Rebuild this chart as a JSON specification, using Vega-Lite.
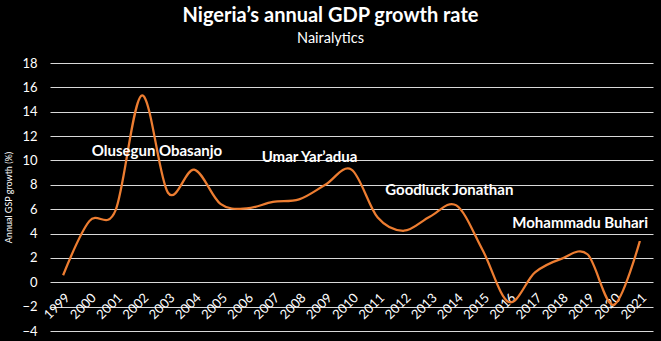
{
  "$schema": "https://vega.github.io/schema/vega-lite/v6.json",
  "autosize": "none",
  "width": 603,
  "height": 268,
  "padding": {"left": 50, "top": 63, "right": 8, "bottom": 10},
  "background": "#000000",
  "config": {
    "view": {"stroke": null},
    "font": "Lato"
  },
  "title": {
    "text": "Nigeria’s annual GDP growth rate",
    "subtitle": "Nairalytics",
    "anchor": "middle",
    "dx": -21,
    "offset": 12,
    "color": "#ffffff",
    "subtitleColor": "#ffffff",
    "font": "Lato",
    "subtitleFont": "Lato",
    "fontSize": 20,
    "fontWeight": "bold",
    "subtitleFontSize": 14.5,
    "subtitlePadding": 6
  },
  "datasets": {
    "gdp": [
      {"year": 1999, "growth": 0.58},
      {"year": 2000, "growth": 5.02},
      {"year": 2001, "growth": 5.9},
      {"year": 2002, "growth": 15.33},
      {"year": 2003, "growth": 7.35},
      {"year": 2004, "growth": 9.25},
      {"year": 2005, "growth": 6.44},
      {"year": 2006, "growth": 6.06},
      {"year": 2007, "growth": 6.6},
      {"year": 2008, "growth": 6.8},
      {"year": 2009, "growth": 8.0},
      {"year": 2010, "growth": 9.25},
      {"year": 2011, "growth": 5.31},
      {"year": 2012, "growth": 4.23},
      {"year": 2013, "growth": 5.4},
      {"year": 2014, "growth": 6.31},
      {"year": 2015, "growth": 2.65},
      {"year": 2016, "growth": -1.62},
      {"year": 2017, "growth": 0.81},
      {"year": 2018, "growth": 1.92},
      {"year": 2019, "growth": 2.3},
      {"year": 2020, "growth": -1.85},
      {"year": 2021, "growth": 3.4}
    ],
    "labels": [
      {"year": 2002.58, "growth": 10.8, "label": "Olusegun Obasanjo"},
      {"year": 2008.4, "growth": 10.3, "label": "Umar Yar’adua"},
      {"year": 2013.73, "growth": 7.6, "label": "Goodluck Jonathan"},
      {"year": 2018.72, "growth": 4.9, "label": "Mohammadu Buhari"}
    ]
  },
  "encoding": {
    "x": {
      "field": "year",
      "type": "quantitative",
      "scale": {"domain": [1998.5, 2021.5], "nice": false, "zero": false},
      "axis": {
        "title": null,
        "values": [1999,2000,2001,2002,2003,2004,2005,2006,2007,2008,2009,2010,2011,2012,2013,2014,2015,2016,2017,2018,2019,2020,2021],
        "format": "d",
        "labelAngle": -45,
        "labelColor": "#ffffff",
        "labelFontSize": 13,
        "labelFont": "Lato",
        "labelPadding": 9,
        "labelFlush": false,
        "labelOverlap": false,
        "grid": false,
        "domain": false,
        "ticks": false,
        "offset": -49
      }
    },
    "y": {
      "field": "growth",
      "type": "quantitative",
      "scale": {"domain": [-4, 18], "nice": false},
      "axis": {
        "title": "Annual GSP growth (%)",
        "titleColor": "#ffffff",
        "titleFontSize": 9,
        "titleFontWeight": "normal",
        "titleFont": "Lato",
        "titlePadding": 8,
        "values": [-4,-2,0,2,4,6,8,10,12,14,16,18],
        "labelOverlap": false,
        "labelColor": "#ffffff",
        "labelFontSize": 13,
        "labelFont": "Lato",
        "labelPadding": 13,
        "grid": true,
        "gridColor": "#d9d9d9",
        "gridWidth": 1,
        "gridOpacity": 1,
        "domain": false,
        "ticks": false
      }
    }
  },
  "layer": [
    {
      "data": {"name": "gdp"},
      "mark": {"type": "line", "interpolate": "cardinal", "color": "#ED7D31", "strokeWidth": 2.25}
    },
    {
      "data": {"name": "labels"},
      "mark": {"type": "text", "color": "#ffffff", "fontWeight": "bold", "fontSize": 15, "font": "Lato", "align": "center", "baseline": "middle"},
      "encoding": {
        "text": {"field": "label"}
      }
    }
  ]
}
